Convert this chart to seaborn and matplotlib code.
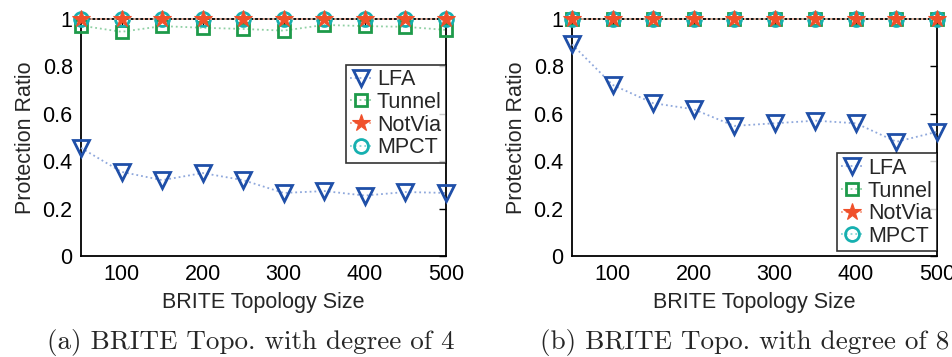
import matplotlib
matplotlib.use("Agg")
import matplotlib.pyplot as plt
import seaborn as sns
import pandas as pd

sns.set_style("white")
plt.rcParams["font.family"] = ["Liberation Sans", "DejaVu Sans"]

# topology sizes on the x axis
sizes = [50, 100, 150, 200, 250, 300, 350, 400, 450, 500]

# (a) degree 4
lfa_a = [0.456, 0.355, 0.32, 0.35, 0.32, 0.266, 0.274, 0.255, 0.27, 0.266]
tunnel_a = [0.972, 0.946, 0.97, 0.963, 0.958, 0.951, 0.975, 0.97, 0.967, 0.954]
notvia_a = [1, 1, 1, 1, 1, 1, 1, 1, 1, 1]
mpct_a = [1, 1, 1, 1, 1, 1, 1, 1, 1, 1]

# (b) degree 8
lfa_b = [0.893, 0.722, 0.645, 0.619, 0.549, 0.56, 0.571, 0.56, 0.482, 0.524]
tunnel_b = [1, 1, 1, 1, 1, 1, 1, 1, 1, 1]
notvia_b = [1, 1, 1, 1, 1, 1, 1, 1, 1, 1]
mpct_b = [1, 1, 1, 1, 1, 1, 1, 1, 1, 1]

y_ticks = [0, 0.2, 0.4, 0.6, 0.8, 1]
y_tick_labels = ["0", "0.2", "0.4", "0.6", "0.8", "1"]
x_ticks = [100, 200, 300, 400, 500]
captions = ["(a) BRITE Topo. with degree of 4", "(b) BRITE Topo. with degree of 8"]

# name, marker, marker colour, line colour, size, filled, zorder
styles = [
    ("LFA", "v", "#1f4fa8", "#8fa8dc", 11, False, 5),
    ("Tunnel", "s", "#1e9a4a", "#8fd0a4", 8, False, 4),
    ("NotVia", "*", "#f0502a", "#f4a08a", 13, True, 7),
    ("MPCT", "o", "#16b0b0", "#86d6d6", 10, False, 6),
]

fig = plt.figure(figsize=(9.52, 3.57), dpi=100)
W, H = 952, 357
axes = [
    fig.add_axes([81 / W, (H - 256) / H, 365 / W, 237 / H]),
    fig.add_axes([572 / W, (H - 256) / H, 365 / W, 237 / H]),
]
panels = [
    [lfa_a, tunnel_a, notvia_a, mpct_a],
    [lfa_b, tunnel_b, notvia_b, mpct_b],
]
legend_pos = [((1.0, 0.806), "upper right"), ((1.0, 0.02), "lower right")]
caption_x = [251 / W, 745 / W]

for ax, series, cap, cx, (anchor, loc) in zip(axes, panels, captions, caption_x, legend_pos):
    for vals, (name, mk, mc, lc, ms, filled, z) in zip(series, styles):
        df = pd.DataFrame({"size": sizes, "ratio": vals})
        sns.lineplot(
            data=df, x="size", y="ratio", ax=ax, label=name,
            color=lc, linestyle=":", linewidth=1.3,
            marker=mk, markersize=ms,
            markeredgecolor=mc, markeredgewidth=2.0 if not filled else 0.8,
            markerfacecolor=mc if filled else "none",
            clip_on=False, zorder=z,
        )
    ax.set_xlim(50, 500)
    ax.set_ylim(0, 1)
    ax.set_xticks(x_ticks)
    ax.set_yticks(y_ticks)
    ax.set_yticklabels(y_tick_labels)
    ax.tick_params(direction="in", length=5, width=1, labelsize=15.5,
                   top=True, right=True, colors="black", pad=6)
    for sp in ax.spines.values():
        sp.set_color("black")
        sp.set_linewidth(1.3)
        sp.set_zorder(3)
    ax.set_xlabel("BRITE Topology Size", fontsize=15.5, labelpad=5)
    ax.set_ylabel("Protection Ratio", fontsize=15.5, labelpad=5)
    leg = ax.legend(loc=loc, bbox_to_anchor=anchor, borderaxespad=0,
                    fontsize=15.5, frameon=True, fancybox=False,
                    handlelength=1.0, handletextpad=0.25, labelspacing=0.08,
                    borderpad=0.2)
    leg.get_frame().set_edgecolor("black")
    leg.get_frame().set_linewidth(1.2)
    leg.set_zorder(10)
    fig.text(cx, (H - 349) / H, cap, ha="center", va="baseline",
             fontsize=19.5, family="cmr10")

fig.savefig("out.png", dpi=100)
